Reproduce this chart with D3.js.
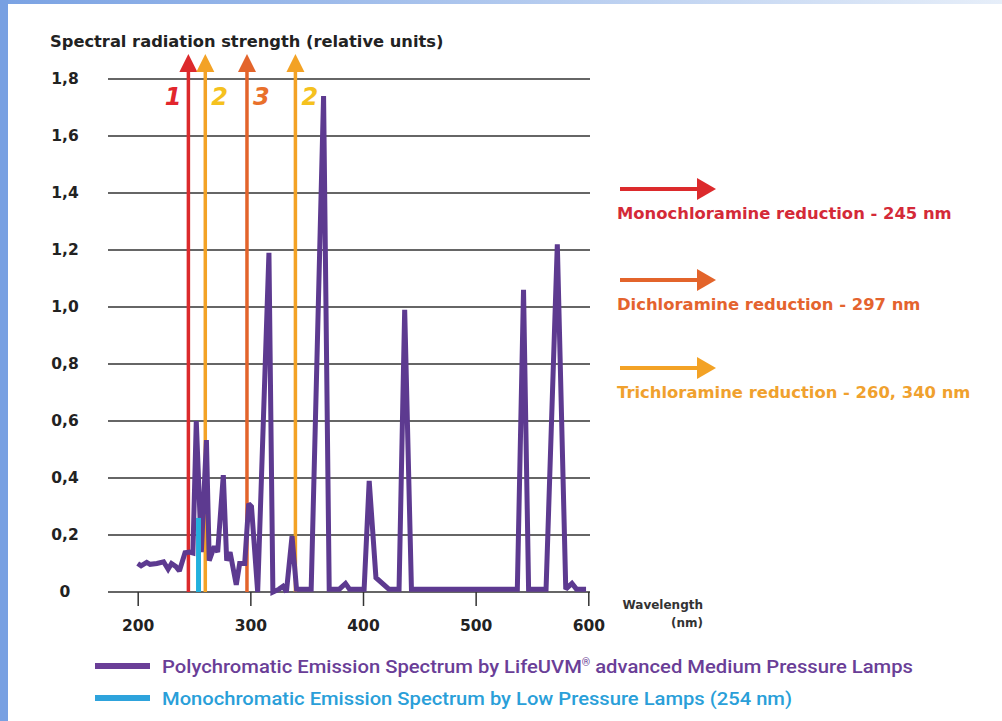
<!DOCTYPE html>
<html>
<head>
<meta charset="utf-8">
<title>Spectral radiation strength</title>
<style>
  body { margin: 0; background: #fff; }
  svg { display: block; }
</style>
</head>
<body>
<svg width="1002" height="721"></svg>
<script src="https://d3js.org/d3.v7.min.js"></script>
<script>

// polychromatic spectrum (wavelength nm, relative strength)
var polyNm = [200, 203, 208, 211, 217, 223, 227, 230, 234, 237, 242, 246, 249, 252, 256.5,
              261, 263.5, 268, 271, 276, 279, 282, 287.5, 290.5, 295, 298.5, 301, 306.5,
              316.5, 320, 325.5, 329, 332, 337, 341, 354, 365, 370, 379, 384.5, 388,
              401, 405.5, 411.5, 423, 432, 437, 443, 537, 542.5, 547, 562.5, 572.5, 580,
              585.5, 589.5, 598];
var polyVal = [0.10, 0.092, 0.104, 0.097, 0.10, 0.106, 0.08, 0.10, 0.089, 0.074, 0.138, 0.14, 0.137, 0.60, 0.14,
               0.533, 0.11, 0.16, 0.14, 0.41, 0.11, 0.14, 0.025, 0.10, 0.10, 0.31, 0.30, 0.0,
               1.19, 0.0, 0.01, 0.02, 0.0, 0.196, 0.01, 0.01, 1.74, 0.01, 0.01, 0.03, 0.01,
               0.01, 0.39, 0.05, 0.01, 0.01, 0.99, 0.01, 0.01, 1.06, 0.01, 0.01, 1.22, 0.01,
               0.03, 0.01, 0.01];

// monochromatic low pressure line
var monoNm = 254, monoVal = 0.26;

// reduction markers
var markerNm = [245, 260, 297, 340];
var markerLabel = ["1", "2", "3", "2"];
var markerTop = 1.888;

var yTicks = [0, 0.2, 0.4, 0.6, 0.8, 1.0, 1.2, 1.4, 1.6, 1.8];
var yTickLabels = ["0", "0,2", "0,4", "0,6", "0,8", "1,0", "1,2", "1,4", "1,6", "1,8"];
var xTicks = [200, 300, 400, 500, 600];

var legendRight = ["Monochloramine reduction - 245 nm",
                   "Dichloramine reduction - 297 nm",
                   "Trichloramine reduction - 260, 340 nm"];
var legendBottom = [["Polychromatic Emission Spectrum by LifeUVM", "\u00AE", " advanced Medium Pressure Lamps"],
                    ["Monochromatic Emission Spectrum by Low Pressure Lamps (254 nm)", "", ""]];

var RED = "#dc2a2c", YEL = "#f3a225", ORA = "#e3642b";
var markerColor = [RED, YEL, ORA, YEL];
var labelColor = ["#e2262c", "#f5c11e", "#e9702b", "#f5c11e"];
var PURPLE = "#5d3a90", CYAN = "#22b0dd";
var FONT = "DejaVu Sans, Verdana, sans-serif";

var svg = d3.select("svg"),
    width = +svg.attr("width"),
    height = +svg.attr("height");

var x = d3.scaleLinear().domain([200, 600]).range([137.7, 588.3]);
var y = d3.scaleLinear().domain([0, 1.8]).range([592, 79]);
var gridLeft = 108, gridRight = 590;

// frame
var defs = svg.append("defs");
var grad = defs.append("linearGradient").attr("id", "topband")
    .attr("x1", "0").attr("x2", "1").attr("y1", "0").attr("y2", "0");
grad.append("stop").attr("offset", "0").attr("stop-color", "#7aa2e3");
grad.append("stop").attr("offset", "1").attr("stop-color", "#e6eef9");
svg.append("rect").attr("x", 0).attr("y", 0).attr("width", width).attr("height", 4)
    .attr("fill", "url(#topband)");
svg.append("rect").attr("x", 0).attr("y", 0).attr("width", 8).attr("height", height)
    .attr("fill", "#78a0e2");

// title
svg.append("text")
    .attr("x", 50).attr("y", 47)
    .attr("font-family", FONT)
    .attr("font-weight", "bold").attr("font-size", 16.3)
    .attr("fill", "#222")
    .text("Spectral radiation strength (relative units)");

// horizontal grid
svg.append("g").selectAll("line")
  .data(yTicks)
  .enter().append("line")
    .attr("x1", gridLeft).attr("x2", gridRight)
    .attr("y1", function(d) { return y(d); })
    .attr("y2", function(d) { return y(d); })
    .attr("stroke", "#333").attr("stroke-width", 1.5);

// y labels
svg.append("g").selectAll("text")
  .data(yTicks)
  .enter().append("text")
    .attr("x", 65)
    .attr("y", function(d) { return y(d) + 5; })
    .attr("text-anchor", "middle")
    .attr("font-family", FONT)
    .attr("font-weight", "bold").attr("font-size", 15.5)
    .attr("fill", "#222")
    .text(function(d, i) { return yTickLabels[i]; });

// x axis ticks + labels
var xAxis = d3.axisBottom(x).tickValues(xTicks).tickSize(14).tickPadding(14)
    .tickFormat(d3.format("d"));
var gx = svg.append("g").attr("transform", "translate(0," + y(0) + ")").call(xAxis);
gx.select(".domain").remove();
gx.selectAll(".tick line").attr("stroke", "#333").attr("stroke-width", 1.5);
gx.selectAll(".tick text")
    .attr("font-family", FONT)
    .attr("font-weight", "bold").attr("font-size", 15.5)
    .attr("fill", "#222");

svg.append("text").attr("x", 703).attr("y", 609).attr("text-anchor", "end")
    .attr("font-family", FONT)
    .attr("font-weight", "bold").attr("font-size", 12).attr("fill", "#333")
    .text("Wavelength");
svg.append("text").attr("x", 703).attr("y", 627).attr("text-anchor", "end")
    .attr("font-family", FONT)
    .attr("font-weight", "bold").attr("font-size", 12).attr("fill", "#333")
    .text("(nm)");

// reduction marker arrows
var head = 18, headW = 9;
var gm = svg.append("g");
markerNm.forEach(function(nm, i) {
  var xp = x(nm), tip = y(markerTop);
  gm.append("line")
    .attr("x1", xp).attr("x2", xp)
    .attr("y1", y(0)).attr("y2", tip + head - 1)
    .attr("stroke", markerColor[i]).attr("stroke-width", 3.5);
  gm.append("path")
    .attr("d", "M" + xp + "," + tip + "L" + (xp + headW) + "," + (tip + head) +
               "L" + (xp - headW) + "," + (tip + head) + "Z")
    .attr("fill", markerColor[i]);
  var left = i == 0;
  gm.append("text")
    .attr("x", left ? xp - 7 : xp + 6)
    .attr("y", 105)
    .attr("text-anchor", left ? "end" : "start")
    .attr("font-family", FONT)
    .attr("font-weight", "bold").attr("font-style", "italic")
    .attr("font-size", 24)
    .attr("fill", labelColor[i])
    .text(markerLabel[i]);
});

// polychromatic spectrum
var line = d3.line()
    .x(function(d) { return x(d[0]); })
    .y(function(d) { return y(d[1]); });
svg.append("path")
    .datum(polyNm.map(function(d, i) { return [d, polyVal[i]]; }))
    .attr("fill", "none")
    .attr("stroke", PURPLE)
    .attr("stroke-width", 5)
    .attr("stroke-linejoin", "miter")
    .attr("stroke-miterlimit", 2)
    .attr("d", line);

// monochromatic line
svg.append("line")
    .attr("x1", x(monoNm)).attr("x2", x(monoNm))
    .attr("y1", y(0)).attr("y2", y(monoVal))
    .attr("stroke", CYAN).attr("stroke-width", 5);

// right legend
var rightY = [189, 280, 368];
var rightColor = ["#d42a38", "#e4632e", "#f0a12e"];
var arrowColor = [RED, ORA, YEL];
legendRight.forEach(function(t, i) {
  var yy = rightY[i];
  svg.append("line").attr("x1", 620).attr("x2", 699).attr("y1", yy).attr("y2", yy)
    .attr("stroke", arrowColor[i]).attr("stroke-width", 4);
  svg.append("path")
    .attr("d", "M716," + yy + "L697," + (yy - 11) + "L697," + (yy + 11) + "Z")
    .attr("fill", arrowColor[i]);
  svg.append("text").attr("x", 617).attr("y", yy + 30)
    .attr("font-family", FONT)
    .attr("font-weight", "bold").attr("font-size", 16.4)
    .attr("fill", rightColor[i])
    .text(t);
});

// bottom legend
var bottomY = [666, 698];
var bottomColor = ["#6a3e97", "#2a9fd9"];
var swatchColor = ["#6a3e97", "#2ea3dc"];
var bottomWidth = [751, 630];
legendBottom.forEach(function(parts, i) {
  svg.append("rect").attr("x", 95).attr("y", bottomY[i] - 3).attr("width", 55).attr("height", 6)
    .attr("fill", swatchColor[i]);
  var t = svg.append("text").attr("x", 162).attr("y", bottomY[i] + 7)
    .attr("font-family", "Roboto, sans-serif")
    .attr("font-weight", 500).attr("font-size", 19)
    .attr("fill", bottomColor[i])
    .attr("textLength", bottomWidth[i])
    .attr("lengthAdjust", "spacingAndGlyphs");
  t.append("tspan").text(parts[0]);
  if (parts[1]) {
    t.append("tspan").attr("font-size", 10).attr("dy", -7).text(parts[1]);
    t.append("tspan").attr("dy", 7).text(parts[2]);
  }
});

</script>
</body>
</html>
